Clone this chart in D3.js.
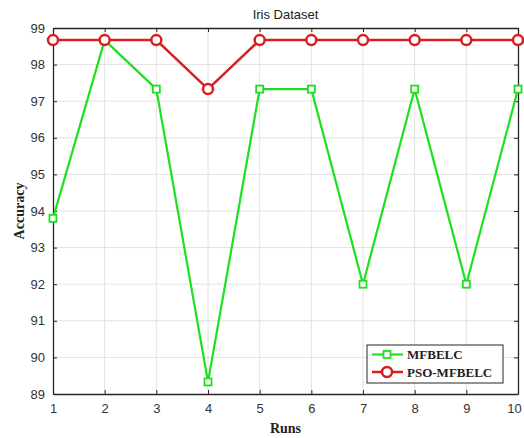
<!DOCTYPE html>
<html>
<head>
<meta charset="utf-8">
<script src="https://cdn.jsdelivr.net/npm/d3@7"></script>
<style>
  body { margin: 0; background: #fff; }
  svg { display: block; }
</style>
</head>
<body>
<svg id="chart"></svg>
<script>
// chart data
const runs = [1, 2, 3, 4, 5, 6, 7, 8, 9, 10]
const mfbelc = [93.8, 98.67, 97.33, 89.33, 97.33, 97.33, 92, 97.33, 92, 97.33]
const psoMfbelc = [98.67, 98.67, 98.67, 97.33, 98.67, 98.67, 98.67, 98.67, 98.67, 98.67]
const yTicks = [89, 90, 91, 92, 93, 94, 95, 96, 97, 98, 99]
const seriesNames = ['MFBELC', 'PSO-MFBELC']

const width = 524
const height = 438
const margin = { top: 28, right: 6, bottom: 44, left: 53 }

const svg = d3.select('#chart')
    .attr('width', width)
    .attr('height', height)

const x = d3.scaleLinear().domain([1, 10]).range([margin.left, width - margin.right])
const y = d3.scaleLinear().domain([89, 99]).range([height - margin.bottom, margin.top])

const axisColor = '#262626'
const tickFont = 'Liberation Sans, Arial, sans-serif'

// grid
const grid = svg.append('g').attr('stroke', '#e2e2e2').attr('stroke-width', 1)
grid.selectAll('line.gx')
    .data(runs.slice(1, -1))
    .join('line')
    .attr('x1', d => x(d)).attr('x2', d => x(d))
    .attr('y1', y(89)).attr('y2', y(99))
grid.selectAll('line.gy')
    .data(yTicks.slice(1, -1))
    .join('line')
    .attr('class', 'gy')
    .attr('x1', x(1)).attr('x2', x(10))
    .attr('y1', d => y(d)).attr('y2', d => y(d))

// axes, ticks inside like matlab
const xAxis = svg.append('g')
    .attr('transform', `translate(0,${y(89)})`)
    .call(d3.axisBottom(x).tickValues(runs).tickSizeInner(-4).tickSizeOuter(0).tickPadding(10))
const xAxisTop = svg.append('g')
    .attr('transform', `translate(0,${y(99)})`)
    .call(d3.axisTop(x).tickValues(runs).tickSizeInner(-4).tickSizeOuter(0).tickFormat(''))
const yAxis = svg.append('g')
    .attr('transform', `translate(${x(1)},0)`)
    .call(d3.axisLeft(y).tickValues(yTicks).tickSizeInner(-4).tickSizeOuter(0).tickPadding(8))
const yAxisRight = svg.append('g')
    .attr('transform', `translate(${x(10)},0)`)
    .call(d3.axisRight(y).tickValues(yTicks).tickSizeInner(-4).tickSizeOuter(0).tickFormat(''))

;[xAxis, xAxisTop, yAxis, yAxisRight].forEach(g => {
    g.select('.domain').attr('stroke', axisColor).attr('stroke-width', 1.3)
    g.selectAll('.tick line').attr('stroke', axisColor)
    g.selectAll('text')
        .attr('fill', '#333')
        .attr('font-family', tickFont)
        .attr('font-size', 13)
})

// last label sits at the window edge, keep it inside
xAxis.selectAll('.tick text')
    .filter(d => d === 10)
    .attr('text-anchor', 'end')
    .attr('dx', '0.25em')

// title and labels
svg.append('text')
    .attr('x', (x(1) + x(10)) / 2)
    .attr('y', 19)
    .attr('text-anchor', 'middle')
    .attr('font-family', tickFont)
    .attr('font-size', 13)
    .attr('fill', '#222')
    .text('Iris Dataset')

svg.append('text')
    .attr('x', (x(1) + x(10)) / 2)
    .attr('y', 433)
    .attr('text-anchor', 'middle')
    .attr('font-family', 'Liberation Serif, Times New Roman, serif')
    .attr('font-weight', 'bold')
    .attr('font-size', 14)
    .attr('fill', '#222')
    .text('Runs')

svg.append('text')
    .attr('transform', `translate(24,${(y(89) + y(99)) / 2}) rotate(-90)`)
    .attr('text-anchor', 'middle')
    .attr('font-family', 'Liberation Serif, Times New Roman, serif')
    .attr('font-weight', 'bold')
    .attr('font-size', 14)
    .attr('fill', '#222')
    .text('Accuracy')

const green = '#1ee01e'
const red = '#d81e1e'

const line = d3.line().x((d, i) => x(runs[i])).y(d => y(d))

// MFBELC
svg.append('path')
    .datum(mfbelc)
    .attr('fill', 'none')
    .attr('stroke', green)
    .attr('stroke-width', 2.2)
    .attr('d', line)
svg.append('g').selectAll('rect')
    .data(mfbelc)
    .join('rect')
    .attr('x', (d, i) => x(runs[i]) - 3.5)
    .attr('y', d => y(d) - 3.5)
    .attr('width', 7)
    .attr('height', 7)
    .attr('fill', '#fff')
    .attr('stroke', green)
    .attr('stroke-width', 1.8)

// PSO-MFBELC
svg.append('path')
    .datum(psoMfbelc)
    .attr('fill', 'none')
    .attr('stroke', red)
    .attr('stroke-width', 2.5)
    .attr('d', line)
svg.append('g').selectAll('circle')
    .data(psoMfbelc)
    .join('circle')
    .attr('cx', (d, i) => x(runs[i]))
    .attr('cy', d => y(d))
    .attr('r', 5)
    .attr('fill', '#fff')
    .attr('stroke', red)
    .attr('stroke-width', 2.5)

// legend
const legend = svg.append('g').attr('transform', 'translate(367,345)')
legend.append('rect')
    .attr('width', 136)
    .attr('height', 38)
    .attr('fill', '#fff')
    .attr('stroke', axisColor)
    .attr('stroke-width', 1)

const legendColors = [green, red]
seriesNames.forEach((name, i) => {
    const row = legend.append('g').attr('transform', `translate(0,${9.5 + i * 17.5})`)
    row.append('line')
        .attr('x1', 5).attr('x2', 36)
        .attr('stroke', legendColors[i])
        .attr('stroke-width', i ? 2.5 : 2.2)
    if (i === 0) {
        row.append('rect')
            .attr('x', 16.5).attr('y', -3.5)
            .attr('width', 7).attr('height', 7)
            .attr('fill', '#fff')
            .attr('stroke', green)
            .attr('stroke-width', 1.8)
    } else {
        row.append('circle')
            .attr('cx', 20).attr('r', 5)
            .attr('fill', '#fff')
            .attr('stroke', red)
            .attr('stroke-width', 2.5)
    }
    row.append('text')
        .attr('x', 40)
        .attr('dy', '0.35em')
        .attr('font-family', 'Liberation Serif, Times New Roman, serif')
        .attr('font-weight', 'bold')
        .attr('font-size', 13)
        .attr('fill', '#222')
        .text(name)
})
</script>
</body>
</html>
